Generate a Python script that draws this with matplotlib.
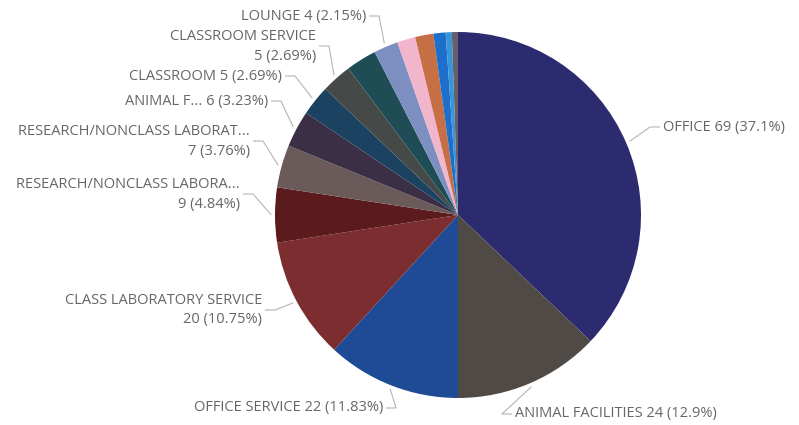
import numpy as np
import matplotlib
matplotlib.use("Agg")
import matplotlib.pyplot as plt

# ---- data ----
categories = ["OFFICE", "ANIMAL FACILITIES", "OFFICE SERVICE", "CLASS LABORATORY SERVICE",
              "RESEARCH/NONCLASS LABORA...", "RESEARCH/NONCLASS LABORAT...", "ANIMAL F...",
              "CLASSROOM", "CLASSROOM SERVICE", "", "LOUNGE", "", "", "", "", ""]
values = [69, 24, 22, 20, 9, 7, 6, 5, 5, 5, 4, 3, 3, 2, 1, 1]
colors = ["#2D2B70", "#4F4A45", "#1E4A96", "#7B2D2F", "#5B1A1C", "#6B5A5A", "#3B2F45",
          "#1C4262", "#454A48", "#1F4D55", "#7D8EC0", "#F1B6CC", "#C66F45", "#1D6FCB",
          "#3796D8", "#66606C"]

# label layout: (x_px, y_px_top, ha, two_line)
label_layout = {
    0: (663, 127, "left", False),
    1: (515, 414, "left", False),
    2: (383, 408, "right", False),
    3: (262, 310, "right", True),
    4: (240, 194, "right", True),
    5: (250, 141, "right", True),
    6: (268, 101, "right", False),
    7: (282, 76, "right", False),
    8: (316, 46, "right", True),
    10: (366, 16, "right", False),
}

W, H = 799, 425
fig = plt.figure(figsize=(W / 100, H / 100), dpi=100)
ax = fig.add_axes([0, 0, 1, 1])
cx, cy_top, R = 458, 215, 183
cy = H - cy_top

wedges, _ = ax.pie(values, colors=colors, center=(cx, cy), radius=R, startangle=90,
                   counterclock=False, wedgeprops=dict(linewidth=0))
ax.set_aspect("equal")
ax.set_xlim(0, W)
ax.set_ylim(0, H)
ax.axis("off")

total = sum(values)

def fmt_pct(v):
    p = 100.0 * v / total
    s = f"{p:.2f}".rstrip("0").rstrip(".")
    return s + "%"

font = dict(family=["Open Sans", "DejaVu Sans"], size=10.5, color="#666666")
line_color = "#B5B5B5"

for i, (lx, ly_top, ha, two) in label_layout.items():
    w = wedges[i]
    ang = np.deg2rad((w.theta1 + w.theta2) / 2)
    sx = cx + R * 1.02 * np.cos(ang)
    sy = cy + R * 1.02 * np.sin(ang)
    ly = H - ly_top
    sign = 1 if ha == "left" else -1
    end_x = lx - sign * 3
    elbow_x = lx - sign * 13
    ax.plot([sx, elbow_x, end_x], [sy, ly, ly], color=line_color, lw=0.8,
            solid_capstyle="butt")
    num = f"{values[i]} ({fmt_pct(values[i])})"
    if two:
        ax.text(lx, ly + 10, categories[i], ha=ha, va="center", **font)
        ax.text(lx, ly - 10, num, ha=ha, va="center", **font)
    else:
        ax.text(lx, ly, f"{categories[i]} {num}", ha=ha, va="center", **font)

fig.savefig("out.png", dpi=100)
